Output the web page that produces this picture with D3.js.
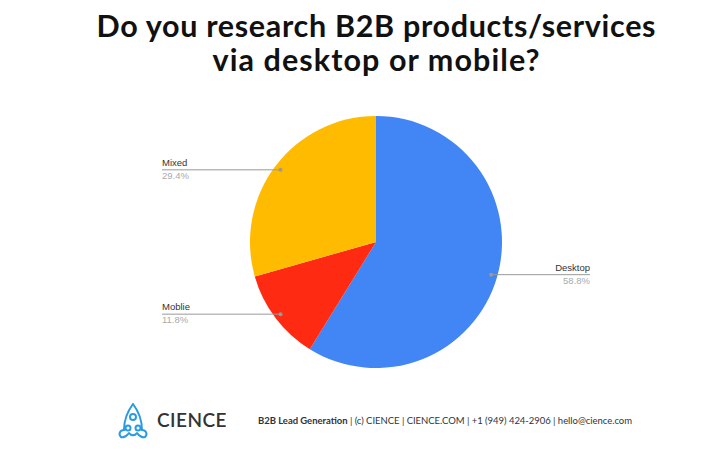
<!DOCTYPE html>
<html><head><meta charset="utf-8">
<script src="https://cdn.jsdelivr.net/npm/d3@7"></script>
<style>body{margin:0;background:#fff}svg{display:block}</style>
</head><body>
<svg id="c" width="718" height="466"></svg>
<script>
const titleLines = ["Do you research B2B products/services", "via desktop or mobile?"];
const categories = ["Desktop", "Moblie", "Mixed"];
const values = [58.8, 11.8, 29.4];
const colors = ["#4285F4", "#FF2A12", "#FFBB00"];
const footerText = "B2B Lead Generation";
const footerRest = " | (c) CIENCE | CIENCE.COM | +1 (949) 424-2906 | hello@cience.com";

const svg = d3.select("#c");
const cx = 376, cy = 242, r = 126;

const titleWidths = [559, 327];
svg.selectAll("text.title").data(titleLines).join("text")
  .attr("x", 376).attr("y", (d,i)=>37 + i*34)
  .attr("text-anchor","middle").attr("font-family","Lato, 'Open Sans', sans-serif")
  .attr("font-weight","700").attr("font-size", 30.5).attr("fill","#111")
  .attr("textLength",(d,i)=>titleWidths[i]).attr("lengthAdjust","spacing")
  .text(d=>d);

const pie = d3.pie().sort(null).value(d=>d)(values);
const arc = d3.arc().innerRadius(0).outerRadius(r);
const g = svg.append("g").attr("transform",`translate(${cx},${cy})`);
g.selectAll("path").data(pie).join("path").attr("d",arc)
  .attr("fill",(d,i)=>colors[i]);

// label lines
const labelArc = d3.arc().innerRadius(r*0.95).outerRadius(r*0.95);
const labelX = [590, 162, 162];
pie.forEach((d,i)=>{
  const [px,py] = labelArc.centroid(d);
  const ax = cx+px, ay = cy+py;
  const lx = labelX[i];
  svg.append("line").attr("x1",lx).attr("x2",ax).attr("y1",ay).attr("y2",ay)
    .attr("stroke","#999").attr("stroke-width",1);
  svg.append("circle").attr("cx",ax).attr("cy",ay).attr("r",2).attr("fill","#999");
  const anchor = i===0 ? "end" : "start";
  svg.append("text").attr("x",lx).attr("y",ay-4).attr("text-anchor",anchor)
    .attr("font-family","Arial, 'Liberation Sans', sans-serif").attr("font-size",9.5).attr("fill","#333")
    .text(categories[i]);
  svg.append("text").attr("x",lx).attr("y",ay+9).attr("text-anchor",anchor)
    .attr("font-family","Arial, 'Liberation Sans', sans-serif").attr("font-size",9.5).attr("fill","#aaa")
    .text(d3.format(".1f")(values[i])+"%");
});

// logo
const lg = svg.append("g").attr("transform","translate(133,420)").attr("fill","none")
  .attr("stroke","#2a9be0").attr("stroke-width",2).attr("stroke-linecap","round").attr("stroke-linejoin","round");
lg.append("path").attr("d","M0,-16 C-6,-8 -9,2 -9,10 M0,-16 C6,-8 9,2 9,10");
lg.append("path").attr("d","M-9,10 C-13,10 -15,14 -12,17 C-10,18 -6,16 -4,13 C-2,16 2,16 4,13 C6,16 10,18 12,17 C15,14 13,10 9,10");
lg.append("circle").attr("cx",0).attr("cy",-3).attr("r",3);
lg.append("circle").attr("cx",-5).attr("cy",8).attr("r",2.5);
lg.append("circle").attr("cx",5).attr("cy",8).attr("r",2.5);
svg.append("text").attr("x",157).attr("y",427).attr("font-family","Lato, sans-serif")
  .attr("font-size",19).attr("letter-spacing",1.5).attr("fill","#333").attr("font-weight","600")
  .attr("textLength",71).attr("lengthAdjust","spacing").text("CIENCE");

const ft = svg.append("text").attr("x",258).attr("y",424).attr("font-family","Lato, sans-serif")
  .attr("font-size",9.5).attr("fill","#333").attr("textLength",374).attr("lengthAdjust","spacing");
ft.append("tspan").attr("font-weight","700").text(footerText);
ft.append("tspan").text(footerRest);
</script>
</body></html>
